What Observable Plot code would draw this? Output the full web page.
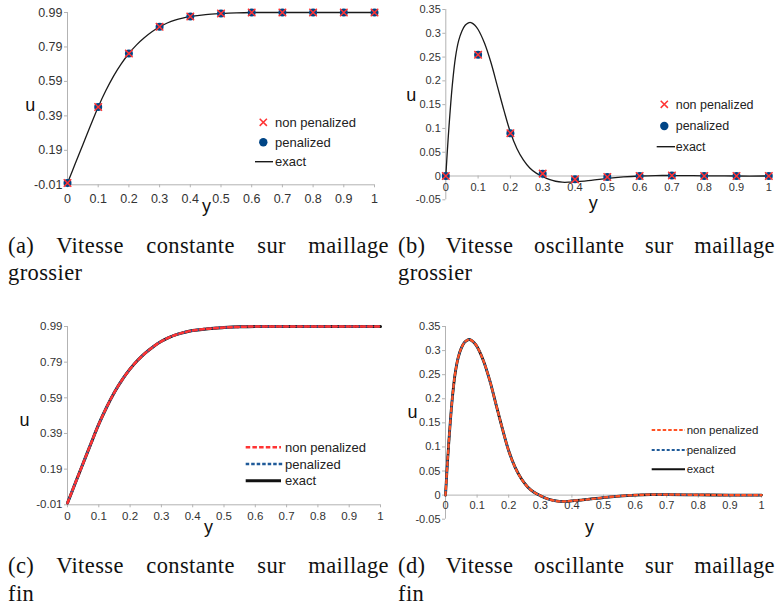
<!DOCTYPE html>
<html><head><meta charset="utf-8">
<script src="https://cdn.jsdelivr.net/npm/d3@7"></script>
<script src="https://cdn.jsdelivr.net/npm/@observablehq/plot@0.6"></script>
<style>
body{margin:0;background:#fff;}
#root{position:relative;width:776px;height:607px;overflow:hidden;background:#fff;font-family:"Liberation Sans",Arial,sans-serif;}
.panel{position:absolute;}
.cap{position:absolute;font-family:"Liberation Serif","DejaVu Serif",serif;font-size:22.5px;letter-spacing:0.4px;color:#111;}
.cap .l1{text-align:justify;text-align-last:justify;white-space:normal;}
</style></head>
<body><div id="root"></div>
<script>
// ---------- data ----------
const xTicks = [0, 0.1, 0.2, 0.3, 0.4, 0.5, 0.6, 0.7, 0.8, 0.9, 1];
const yTicksConst = [-0.01, 0.19, 0.39, 0.59, 0.79, 0.99];
const yTicksOsc = [-0.05, 0, 0.05, 0.1, 0.15, 0.2, 0.25, 0.3, 0.35];
const seriesNames = ["non penalized", "penalized", "exact"];
const axisTitleX = "y";
const axisTitleY = "u";
const captions = [
  ["(a) Vitesse constante sur maillage", "grossier"],
  ["(b) Vitesse oscillante sur maillage", "grossier"],
  ["(c) Vitesse constante sur maillage", "fin"],
  ["(d) Vitesse oscillante sur maillage", "fin"]
];

// coarse mesh nodes
const coarseY = [0, 0.1, 0.2, 0.3, 0.4, 0.5, 0.6, 0.7, 0.8, 0.9, 1];
// (a) constant velocity, coarse mesh
const nonPenConstCoarse = [0, 0.442, 0.752, 0.907, 0.967, 0.984, 0.99, 0.99, 0.99, 0.99, 0.99];
const penConstCoarse    = [0, 0.442, 0.752, 0.907, 0.967, 0.984, 0.99, 0.99, 0.99, 0.99, 0.99];
// (b) oscillating velocity, coarse mesh
const nonPenOscCoarse = [0, 0.255, 0.09, 0.005, -0.007, -0.002, 0, 0.001, 0, 0, 0];
const penOscCoarse    = [0, 0.255, 0.09, 0.005, -0.007, -0.002, 0, 0.001, 0, 0, 0];

// exact solution, constant velocity
const exactConstY = [0, 0.025, 0.05, 0.075, 0.1, 0.125, 0.15, 0.175, 0.2, 0.225, 0.25, 0.275, 0.3, 0.325, 0.35, 0.375, 0.4, 0.45, 0.5, 0.55, 0.6, 0.7, 0.8, 0.9, 1];
const exactConstU = [0, 0.112, 0.223, 0.334, 0.442, 0.537, 0.621, 0.692, 0.752, 0.802, 0.843, 0.878, 0.907, 0.929, 0.946, 0.958, 0.967, 0.978, 0.984, 0.988, 0.99, 0.99, 0.99, 0.99, 0.99];
// exact solution, oscillating velocity
const exactOscY = [0, 0.005, 0.01, 0.02, 0.03, 0.04, 0.05, 0.06, 0.07, 0.075, 0.08, 0.09, 0.1, 0.12, 0.14, 0.16, 0.18, 0.2, 0.22, 0.24, 0.26, 0.28, 0.3, 0.32, 0.34, 0.36, 0.38, 0.4, 0.45, 0.5, 0.55, 0.6, 0.65, 0.7, 0.8, 0.9, 1];
const exactOscU = [0, 0.055, 0.105, 0.19, 0.25, 0.285, 0.305, 0.317, 0.322, 0.323, 0.322, 0.317, 0.308, 0.279, 0.238, 0.188, 0.138, 0.092, 0.058, 0.034, 0.017, 0.006, -0.001, -0.007, -0.011, -0.013, -0.013, -0.012, -0.009, -0.005, -0.002, 0, 0.001, 0.001, 0.0005, 0, 0];
// fine mesh solutions (indistinguishable from exact at this scale)
const fineConstY = exactConstY;
const nonPenConstFine = exactConstU;
const penConstFine = exactConstU;
const fineOscY = exactOscY;
const nonPenOscFine = exactOscU;
const penOscFine = exactOscU;

// ---------- styles ----------
const AXIS = "#b3b3b3";
const TXT = "#333";
const BLUE = "#004586";
const RED = "#ff3333";
const ORANGE = "#ff5224";
const DASHBLUE = "#1f5a99";
const fmtX = d => String(+d.toFixed(1));
const fmtConst = d => d.toFixed(2);
const fmtOsc = d => String(+d.toFixed(2));

const root = document.getElementById("root");

function axes(yAt, yTicks, yFmt, fs, xdy) {
  return [
    Plot.ruleX([0], {stroke: AXIS}),
    Plot.ruleY([yAt], {stroke: AXIS}),
    Plot.ruleX(xTicks, {x: d => d, y1: yAt, y2: yAt, insetBottom: -3, stroke: AXIS}),
    Plot.axisY(yTicks, {tickSize: 3, tickPadding: 2, stroke: AXIS, fill: TXT, tickFormat: yFmt, fontSize: fs}),
    Plot.text(xTicks, {x: d => d, y: yAt, dy: xdy, text: fmtX, fill: TXT, fontSize: fs})
  ];
}
function titles(u, y) {
  return [
    Plot.text([axisTitleY], {text: d => d, frameAnchor: "left", textAnchor: "middle", lineAnchor: "middle", dx: u[0], dy: u[1], fontSize: 18, fill: "#111"}),
    Plot.text([axisTitleX], {text: d => d, frameAnchor: "bottom", textAnchor: "middle", lineAnchor: "middle", dx: y[0], dy: y[1], fontSize: 18, fill: "#111"})
  ];
}
function place(svg, left, top) {
  const d = document.createElement("div");
  d.className = "panel";
  d.style.left = left + "px";
  d.style.top = top + "px";
  d.appendChild(svg);
  root.appendChild(d);
}
const baseStyle = fs => ({background: "transparent", fontFamily: "'Liberation Sans', Arial, sans-serif", fontSize: fs + "px", color: TXT, overflow: "visible"});

// (a)
place(Plot.plot({
  width: 388, height: 215, marginLeft: 67, marginRight: 14, marginTop: 12, marginBottom: 30.7,
  x: {domain: [0, 1], axis: null}, y: {domain: [-0.01, 0.99]},
  style: baseStyle(12.5),
  marks: [
    ...axes(-0.01, yTicksConst, fmtConst, 12.5, 14),
    Plot.line(exactConstU, {x: exactConstY, y: exactConstU, stroke: "#1a1a1a", strokeWidth: 1.3, curve: "catmull-rom"}),
    Plot.dot(penConstCoarse, {x: coarseY, y: penConstCoarse, r: 4, fill: BLUE}),
    Plot.dot(nonPenConstCoarse, {x: coarseY, y: nonPenConstCoarse, symbol: "times", r: 3.5, stroke: RED, strokeWidth: 1.5}),
    ...titles([-37.3, 6.5], [-14.5, 21])
  ]
}), 0, 0);

// (b)
place(Plot.plot({
  width: 386, height: 215, marginLeft: 55.3, marginRight: 7.7, marginTop: 9, marginBottom: 15.7,
  x: {domain: [0, 1], axis: null}, y: {domain: [-0.05, 0.35]},
  style: baseStyle(11),
  marks: [
    ...axes(0, yTicksOsc, fmtOsc, 11, 11),
    Plot.line(exactOscU, {x: exactOscY, y: exactOscU, stroke: "#1a1a1a", strokeWidth: 1.3, curve: "catmull-rom"}),
    Plot.dot(penOscCoarse, {x: coarseY, y: penOscCoarse, r: 4, fill: BLUE}),
    Plot.dot(nonPenOscCoarse, {x: coarseY, y: nonPenOscCoarse, symbol: "times", r: 3.5, stroke: RED, strokeWidth: 1.5}),
    ...titles([-34.6, -9.2], [-14, 3])
  ]
}), 390, 0);

// (c)
place(Plot.plot({
  width: 390, height: 225, marginLeft: 67, marginRight: 10, marginTop: 16, marginBottom: 30.7,
  x: {domain: [0, 1], axis: null}, y: {domain: [-0.01, 0.99]},
  style: baseStyle(11.5),
  marks: [
    ...axes(-0.01, yTicksConst, fmtConst, 11.5, 11.7),
    Plot.line(exactConstU, {x: exactConstY, y: exactConstU, stroke: "#111", strokeWidth: 3, curve: "catmull-rom"}),
    Plot.line(penConstFine, {x: fineConstY, y: penConstFine, stroke: DASHBLUE, strokeWidth: 2.5, strokeDasharray: "3,3", strokeDashoffset: 1.5, curve: "catmull-rom"}),
    Plot.line(nonPenConstFine, {x: fineConstY, y: nonPenConstFine, stroke: RED, strokeWidth: 2.5, strokeDasharray: "4,3", curve: "catmull-rom"}),
    ...titles([-43, 4.8], [-15.5, 22])
  ]
}), 0, 310);

// (d)
place(Plot.plot({
  width: 386, height: 230, marginLeft: 55, marginRight: 15, marginTop: 16, marginBottom: 21.3,
  x: {domain: [0, 1], axis: null}, y: {domain: [-0.05, 0.35]},
  style: baseStyle(11),
  marks: [
    ...axes(0, yTicksOsc, fmtOsc, 11, 10),
    Plot.line(exactOscU, {x: exactOscY, y: exactOscU, stroke: "#111", strokeWidth: 2.8, curve: "catmull-rom"}),
    Plot.line(penOscFine, {x: fineOscY, y: penOscFine, stroke: DASHBLUE, strokeWidth: 2.2, strokeDasharray: "2.5,3", strokeDashoffset: 1.5, curve: "catmull-rom"}),
    Plot.line(nonPenOscFine, {x: fineOscY, y: nonPenOscFine, stroke: ORANGE, strokeWidth: 2.2, strokeDasharray: "3,3", curve: "catmull-rom"}),
    ...titles([-33, -10.7], [-14, 8])
  ]
}), 390, 310);

// ---------- legends (overlay) ----------
const ov = d3.select(root).append("svg")
  .attr("width", 776).attr("height", 607)
  .style("position", "absolute").style("left", 0).style("top", 0)
  .style("pointer-events", "none")
  .style("font-family", "'Liberation Sans', Arial, sans-serif");

function legendText(x, y, label, fs) {
  ov.append("text").attr("x", x).attr("y", y).attr("dy", "0.35em")
    .attr("font-size", fs).attr("fill", "#222").text(label);
}
function markerLegend(cx, lineX1, lineX2, ys, tx, fs) {
  const r = 3.6;
  ov.append("path").attr("d", `M${cx - r},${ys[0] - r}L${cx + r},${ys[0] + r}M${cx - r},${ys[0] + r}L${cx + r},${ys[0] - r}`)
    .attr("stroke", RED).attr("stroke-width", 1.5).attr("fill", "none");
  legendText(tx, ys[0], seriesNames[0], fs);
  ov.append("circle").attr("cx", cx).attr("cy", ys[1]).attr("r", 4.2).attr("fill", BLUE);
  legendText(tx, ys[1], seriesNames[1], fs);
  ov.append("line").attr("x1", lineX1).attr("x2", lineX2).attr("y1", ys[2]).attr("y2", ys[2])
    .attr("stroke", "#1a1a1a").attr("stroke-width", 1.4);
  legendText(tx, ys[2], seriesNames[2], fs);
}
function lineLegend(x1, x2, ys, tx, fs, redColor, sw, blackW, d1, d2) {
  ov.append("line").attr("x1", x1).attr("x2", x2).attr("y1", ys[0]).attr("y2", ys[0])
    .attr("stroke", redColor).attr("stroke-width", sw).attr("stroke-dasharray", d1);
  legendText(tx, ys[0], seriesNames[0], fs);
  ov.append("line").attr("x1", x1).attr("x2", x2 + 2).attr("y1", ys[1]).attr("y2", ys[1])
    .attr("stroke", DASHBLUE).attr("stroke-width", sw).attr("stroke-dasharray", d2);
  legendText(tx, ys[1], seriesNames[1], fs);
  ov.append("line").attr("x1", x1).attr("x2", x2).attr("y1", ys[2]).attr("y2", ys[2])
    .attr("stroke", "#111").attr("stroke-width", blackW);
  legendText(tx, ys[2], seriesNames[2], fs);
}
markerLegend(263.3, 255, 273, [122.3, 142.3, 161.7], 275, 13);
markerLegend(664.3, 656.7, 675, [104.3, 126, 146.7], 675.7, 12.5);
lineLegend(245.7, 281, [447.3, 464, 480.7], 285, 13, RED, 2.5, 3, "4.5,2.2", "3.5,2");
lineLegend(651.7, 685, [430, 450, 469.3], 686.7, 11.5, ORANGE, 2, 2, "3.5,2", "3,2");

// ---------- captions ----------
function caption(lines, left, top, width, lh) {
  const d = document.createElement("div");
  d.className = "cap";
  d.style.left = left + "px";
  d.style.top = top + "px";
  d.style.width = width + "px";
  d.style.lineHeight = lh + "px";
  const a = document.createElement("div"); a.className = "l1"; a.textContent = lines[0];
  const b = document.createElement("div"); b.textContent = lines[1];
  d.appendChild(a); d.appendChild(b);
  root.appendChild(d);
}
caption(captions[0], 8, 232, 381, 27);
caption(captions[1], 398, 232, 377, 27);
caption(captions[2], 8, 552, 381, 28);
caption(captions[3], 398, 552, 377, 28);
</script>
</body></html>
